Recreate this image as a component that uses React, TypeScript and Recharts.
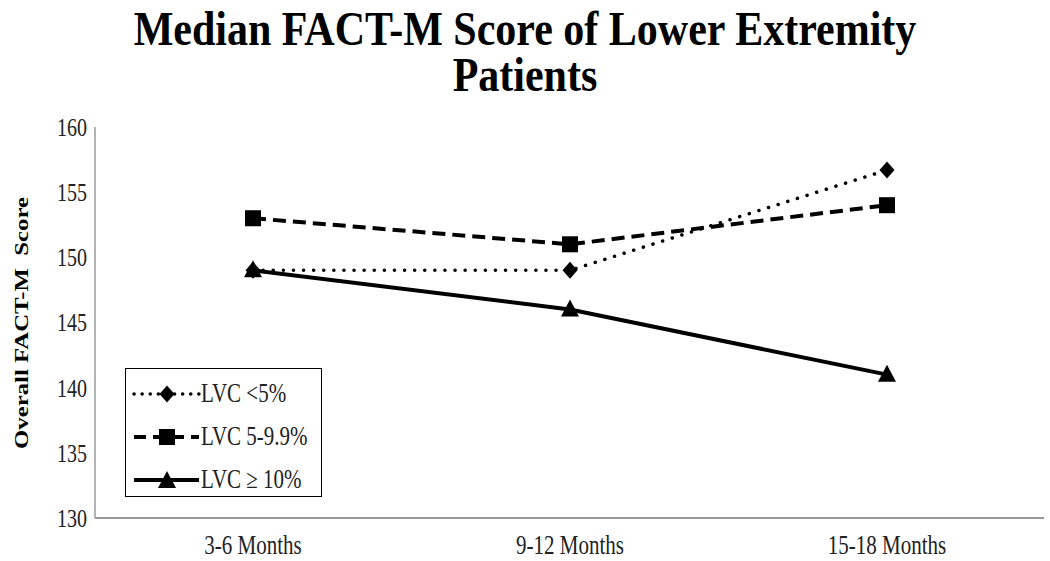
import { LineChart, Line, XAxis, YAxis, Legend } from "recharts";

const categories = ["3-6 Months", "9-12 Months", "15-18 Months"];
const lvcLow = [149, 149, 156.7];
const lvcMid = [153, 151, 154];
const lvcHigh = [149, 146, 141];
const yTicks = [130, 135, 140, 145, 150, 155, 160];
const titleLines = ["Median FACT-M Score of Lower Extremity", "Patients"];

const data = categories.map((month, i) => ({
  month,
  low: lvcLow[i],
  mid: lvcMid[i],
  high: lvcHigh[i],
}));

const serif = "'Liberation Serif', 'Times New Roman', serif";
const stretch = 1.27; // the source picture is stretched vertically

// marker shapes
const Diamond = ({ cx, cy, index }: any) => (
  <path
    key={`dia-${index}`}
    d={`M${cx},${cy - 8.5} L${cx + 7.5},${cy} L${cx},${cy + 8.5} L${cx - 7.5},${cy} Z`}
    fill="#000"
  />
);

const Square = ({ cx, cy, index }: any) => (
  <rect key={`sq-${index}`} x={cx - 8} y={cy - 8} width={16} height={16} fill="#000" />
);

const Triangle = ({ cx, cy, index }: any) => (
  <path
    key={`tri-${index}`}
    d={`M${cx},${cy - 10} L${cx + 9},${cy + 7} L${cx - 9},${cy + 7} Z`}
    fill="#000"
  />
);

const XTick = ({ x, y, payload }: any) => (
  <g transform={`translate(${x},${y})`}>
    <text
      transform={`scale(1,${stretch})`}
      textAnchor="middle"
      dy="0.35em"
      fill="#222"
      fontSize={21}
      fontFamily={serif}
    >
      {payload.value}
    </text>
  </g>
);

const YTick = ({ x, y, payload }: any) => (
  <g transform={`translate(${x},${y})`}>
    <text
      transform={`scale(1,${stretch})`}
      textAnchor="end"
      dy="0.35em"
      fill="#222"
      fontSize={20}
      fontFamily={serif}
    >
      {payload.value}
    </text>
  </g>
);

const legendRows = [
  { label: "LVC <5%", dash: "0.1 8", width: 3.5, cap: "round", marker: "diamond" },
  { label: "LVC 5-9.9%", dash: "12 7", width: 4, cap: "butt", marker: "square" },
  { label: "LVC \u2265 10%", dash: undefined, width: 4, cap: "butt", marker: "triangle" },
];

const LegendBox = () => (
  <div
    style={{
      width: 197,
      height: 129,
      border: "1.5px solid #000",
      background: "#fff",
      boxSizing: "border-box",
      paddingTop: 3,
    }}
  >
    {legendRows.map((r) => (
      <div key={r.label} style={{ display: "flex", alignItems: "center", height: 43 }}>
        <svg width={70} height={22} style={{ marginLeft: 5 }}>
          <line
            x1={3}
            y1={11}
            x2={68}
            y2={11}
            stroke="#000"
            strokeWidth={r.width}
            strokeDasharray={r.dash}
            strokeLinecap={r.cap as any}
          />
          {r.marker === "diamond" && <Diamond cx={36} cy={11} index={0} />}
          {r.marker === "square" && <Square cx={36} cy={11} index={0} />}
          {r.marker === "triangle" && <Triangle cx={36} cy={12} index={0} />}
        </svg>
        <span
          style={{
            fontFamily: serif,
            fontSize: 21,
            color: "#222",
            display: "inline-block",
            transform: `scaleY(${stretch})`,
            whiteSpace: "pre",
          }}
        >
          {r.label}
        </span>
      </div>
    ))}
  </div>
);

export default function App() {
  return (
    <div
      style={{
        position: "absolute",
        left: 0,
        top: 0,
        width: 1050,
        height: 561,
        background: "#fff",
        fontFamily: serif,
      }}
    >
      {titleLines.map((line, i) => (
        <div
          key={line}
          style={{
            position: "absolute",
            top: 7 + i * 46,
            left: 0,
            width: 1050,
            textAlign: "center",
            fontWeight: "bold",
            fontSize: 42,
            lineHeight: "36px",
            color: "#000",
            transform: "scaleY(1.18)",
            transformOrigin: "top",
          }}
        >
          {line}
        </div>
      ))}
      <div
        style={{
          position: "absolute",
          left: 22,
          top: 323,
          transform: `translate(-50%, -50%) rotate(-90deg) scaleX(${stretch})`,
          whiteSpace: "pre",
          fontWeight: "bold",
          fontSize: 19.5,
          color: "#000",
        }}
      >
        {"Overall FACT-M  Score"}
      </div>
      <LineChart
        width={1050}
        height={561}
        data={data}
        margin={{ top: 127, right: 6, bottom: 0, left: 0 }}
      >
        <XAxis
          dataKey="month"
          padding={{ left: 158, right: 157 }}
          tickLine={false}
          stroke="#9a9a9a"
          strokeWidth={2}
          height={43}
          tickMargin={21}
          tick={<XTick />}
        />
        <YAxis
          domain={[130, 160]}
          ticks={yTicks}
          width={95}
          tickLine={false}
          stroke="#9a9a9a"
          strokeWidth={1.5}
          tick={<YTick />}
        />
        <Legend
          layout="vertical"
          align="center"
          verticalAlign="middle"
          wrapperStyle={{ left: 125, top: 368, width: 197 }}
          content={() => <LegendBox />}
        />
        <Line
          dataKey="low"
          name="LVC <5%"
          stroke="#000"
          strokeWidth={3.5}
          strokeDasharray="0.1 10"
          strokeLinecap="round"
          dot={Diamond}
          isAnimationActive={false}
        />
        <Line
          dataKey="mid"
          name="LVC 5-9.9%"
          stroke="#000"
          strokeWidth={4}
          strokeDasharray="13 7"
          dot={Square}
          isAnimationActive={false}
        />
        <Line
          dataKey="high"
          name="LVC ≥ 10%"
          stroke="#000"
          strokeWidth={4}
          dot={Triangle}
          isAnimationActive={false}
        />
      </LineChart>
    </div>
  );
}
